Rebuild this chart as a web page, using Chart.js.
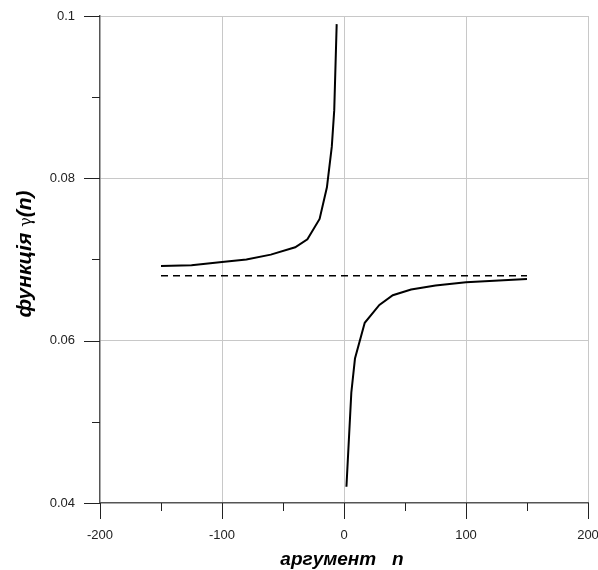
<!DOCTYPE html>
<html>
<head>
<meta charset="utf-8">
<script src="https://cdn.jsdelivr.net/npm/chart.js@4"></script>
<style>
  html, body { margin: 0; padding: 0; background: #fff; }
  #wrap { width: 598px; height: 570px; }
</style>
</head>
<body>
<div id="wrap"><canvas id="gammaChart" width="598" height="570"></canvas></div>
<script>
// гілка для від'ємних n
const upperN = [-150, -125, -100, -80, -60, -40, -30, -20, -14, -10, -8, -6];
const upperGamma = [0.0692, 0.0693, 0.0697, 0.0700, 0.0706, 0.0715, 0.0725, 0.0750, 0.0789, 0.0839, 0.0884, 0.0990];

// гілка для додатних n
const lowerN = [2, 6, 9, 17, 29, 40, 55, 75, 100, 150];
const lowerGamma = [0.0420, 0.0536, 0.0578, 0.0622, 0.0644, 0.0656, 0.0663, 0.0668, 0.0672, 0.0676];

// асимптота
const asymptoteN = [-150, 150];
const asymptoteGamma = [0.068, 0.068];

// осі
const xTickValues = [-200, -150, -100, -50, 0, 50, 100, 150, 200];
const xTickLabels = ['-200', '', '-100', '', '0', '', '100', '', '200'];
const yTickValues = [0.04, 0.05, 0.06, 0.07, 0.08, 0.09, 0.1];
const yTickLabels = ['0.04', '', '0.06', '', '0.08', '', '0.1'];

const FONT = '"Liberation Sans", Arial, sans-serif';
const GRID = '#c8c8c8';
const AXIS = '#555';
const NONE = 'rgba(0,0,0,0)';

function toPoints(xs, ys) {
  return xs.map((x, i) => ({ x: x, y: ys[i] }));
}

function labelFor(values, labels, v) {
  const i = values.findIndex(t => Math.abs(t - v) < 1e-9);
  return i >= 0 ? labels[i] : '';
}

// риски на осях: довгі під підписами, короткі між ними
const axisTicks = {
  id: 'axisTicks',
  afterDraw(chart) {
    const ctx = chart.ctx;
    const xs = chart.scales.x, ys = chart.scales.y;
    ctx.save();
    ctx.strokeStyle = '#222';
    ctx.lineWidth = 1;
    xTickValues.forEach((v, i) => {
      const len = xTickLabels[i] !== '' ? 16 : 8;
      const px = Math.round(xs.getPixelForValue(v)) + 0.5;
      ctx.beginPath();
      ctx.moveTo(px, ys.bottom);
      ctx.lineTo(px, ys.bottom + len);
      ctx.stroke();
    });
    yTickValues.forEach((v, i) => {
      const len = yTickLabels[i] !== '' ? 16 : 8;
      const py = Math.round(ys.getPixelForValue(v)) + 0.5;
      ctx.beginPath();
      ctx.moveTo(xs.left, py);
      ctx.lineTo(xs.left - len, py);
      ctx.stroke();
    });
    ctx.restore();
  }
};

// підписи осей
const axisTitles = {
  id: 'axisTitles',
  afterDraw(chart) {
    const ctx = chart.ctx;
    const area = chart.chartArea;
    ctx.save();
    ctx.fillStyle = '#000';
    ctx.textBaseline = 'alphabetic';

    ctx.font = 'italic bold 19px ' + FONT;
    ctx.textAlign = 'center';
    ctx.fillText('аргумент   n', (area.left + area.right) / 2 - 2, 565);

    const bold = 'italic bold 21px ' + FONT;
    const parts = [
      { text: 'функція ', font: bold },
      { text: 'γ', font: '16px "DejaVu Serif", serif' },
      { text: '(n)', font: bold }
    ];
    let total = 0;
    parts.forEach(p => { ctx.font = p.font; p.w = ctx.measureText(p.text).width; total += p.w; });
    ctx.translate(31, 254);
    ctx.rotate(-Math.PI / 2);
    ctx.textAlign = 'left';
    let x = -total / 2;
    parts.forEach(p => { ctx.font = p.font; ctx.fillText(p.text, x, 0); x += p.w; });
    ctx.restore();
  }
};

const ctx = document.getElementById('gammaChart').getContext('2d');
new Chart(ctx, {
  type: 'scatter',
  data: {
    datasets: [
      {
        data: toPoints(upperN, upperGamma),
        showLine: true, borderColor: '#000', borderWidth: 2,
        pointRadius: 0, tension: 0
      },
      {
        data: toPoints(lowerN, lowerGamma),
        showLine: true, borderColor: '#000', borderWidth: 2,
        pointRadius: 0, tension: 0
      },
      {
        data: toPoints(asymptoteN, asymptoteGamma),
        showLine: true, borderColor: '#000', borderWidth: 1.3,
        borderDash: [7, 5], pointRadius: 0, tension: 0
      }
    ]
  },
  options: {
    responsive: false,
    animation: false,
    layout: { padding: { top: 16, right: 10, left: 0, bottom: 0 } },
    plugins: { legend: { display: false }, tooltip: { enabled: false } },
    scales: {
      x: {
        type: 'linear', min: -200, max: 200,
        afterBuildTicks: s => { s.ticks = xTickValues.map(v => ({ value: v })); },
        afterFit: s => { s.height = 67; s.paddingLeft = 0; s.paddingRight = 0; },
        border: { color: AXIS, width: 1.5 },
        grid: {
          color: c => (c.tick && c.tick.value !== -200 && labelFor(xTickValues, xTickLabels, c.tick.value) !== '') ? GRID : NONE,
          drawTicks: false
        },
        ticks: {
          autoSkip: false, maxRotation: 0, padding: 25,
          color: '#222', font: { family: FONT, size: 13 },
          callback: v => labelFor(xTickValues, xTickLabels, v)
        }
      },
      y: {
        type: 'linear', min: 0.04, max: 0.1,
        afterBuildTicks: s => { s.ticks = yTickValues.map(v => ({ value: v })); },
        afterFit: s => { s.width = 100; s.paddingTop = 0; s.paddingBottom = 0; },
        border: { color: AXIS, width: 1.5 },
        grid: {
          color: c => (c.tick && Math.abs(c.tick.value - 0.04) > 1e-9 && labelFor(yTickValues, yTickLabels, c.tick.value) !== '') ? GRID : NONE,
          drawTicks: false
        },
        ticks: {
          autoSkip: false, padding: 25,
          color: '#222', font: { family: FONT, size: 13 },
          callback: v => labelFor(yTickValues, yTickLabels, v)
        }
      }
    }
  },
  plugins: [axisTicks, axisTitles]
});
</script>
</body>
</html>
